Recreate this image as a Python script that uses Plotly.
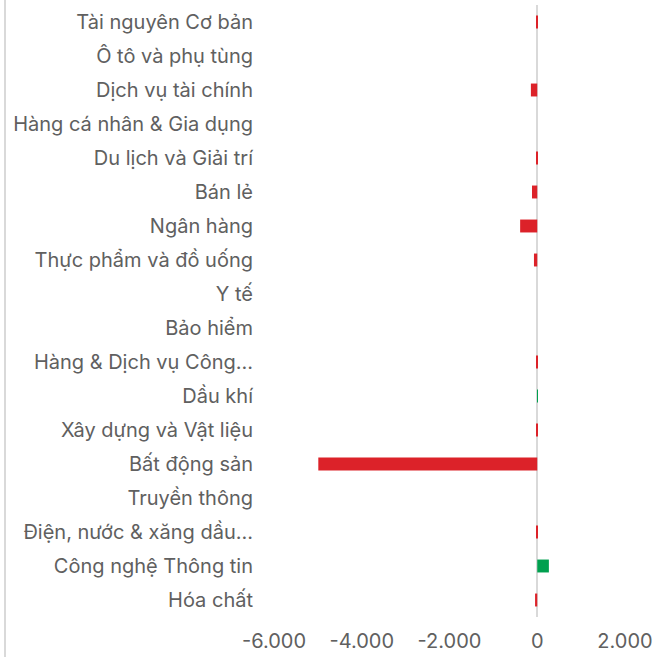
import plotly.graph_objects as go

categories = [
    "Tài nguyên Cơ bản",
    "Ô tô và phụ tùng",
    "Dịch vụ tài chính",
    "Hàng cá nhân & Gia dụng",
    "Du lịch và Giải trí",
    "Bán lẻ",
    "Ngân hàng",
    "Thực phẩm và đồ uống",
    "Y tế",
    "Bảo hiểm",
    "Hàng & Dịch vụ Công...",
    "Dầu khí",
    "Xây dựng và Vật liệu",
    "Bất động sản",
    "Truyền thông",
    "Điện, nước & xăng dầu...",
    "Công nghệ Thông tin",
    "Hóa chất",
]
values = [-25, 0, -145, 0, -25, -120, -390, -75, 0, 0, -25, 15, -25, -4990, 0, -25, 265, -50]

tick_vals = [-6000, -4000, -2000, 0, 2000]
tick_text = ["-6.000", "-4.000", "-2.000", "0", "2.000"]

RED = "#dc2229"
GREEN = "#00a04f"
colors = [GREEN if v > 0 else RED for v in values]

fig = go.Figure(
    go.Bar(
        x=values,
        y=categories,
        orientation="h",
        marker=dict(color=colors, line=dict(width=0)),
        hoverinfo="x+y",
    )
)

W, H = 656, 657
ML, MR, MT, MB = 274, 31, 5, 40
pw = W - ML - MR
ph = H - MT - MB

fig.update_layout(
    width=W,
    height=H,
    margin=dict(l=ML, r=MR, t=MT, b=MB, autoexpand=False),
    paper_bgcolor="white",
    plot_bgcolor="white",
    bargap=0.62,
    showlegend=False,
    font=dict(family="Inter, Roboto, sans-serif", size=20, color="#606060"),
    xaxis=dict(
        range=[-6000, 2000],
        tickvals=tick_vals,
        ticktext=tick_text,
        showgrid=False,
        zeroline=True,
        zerolinecolor="#d9d9d9",
        zerolinewidth=2,
        showline=False,
        ticks="outside",
        ticklen=6,
        tickcolor="rgba(0,0,0,0)",
        fixedrange=True,
        automargin=False,
    ),
    yaxis=dict(
        autorange="reversed",
        showgrid=False,
        zeroline=False,
        showline=False,
        ticks="outside",
        ticklen=16,
        tickcolor="rgba(0,0,0,0)",
        fixedrange=True,
        automargin=False,
    ),
    shapes=[
        dict(
            type="line",
            xref="paper",
            yref="paper",
            x0=(5 - ML) / pw,
            x1=(5 - ML) / pw,
            y0=-MB / ph,
            y1=1 + MT / ph,
            line=dict(color="#d9d9d9", width=2),
        )
    ],
)

fig.write_html(
    "out.html",
    config={"displayModeBar": False},
    post_script="document.body.style.margin='0';document.body.style.overflow='hidden';",
)
